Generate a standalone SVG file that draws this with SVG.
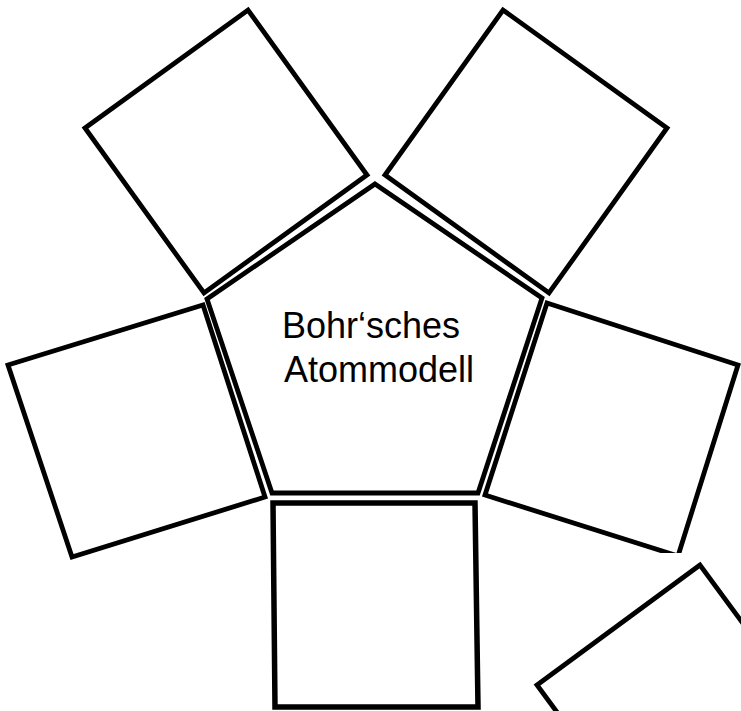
<svg xmlns="http://www.w3.org/2000/svg" width="741" height="711" viewBox="0 0 741 711">
<style>
.sh{fill:#fff;stroke:#000;stroke-width:4.8;stroke-linejoin:miter}
.lbl{font-family:"Liberation Sans",Arial,sans-serif;font-size:36px;fill:#000}
</style>
<rect width="741" height="711" fill="#fff"/>
<g id="center">
<polygon class="sh" points="375,184 542,298 478,493 272,493 207,299"/>
<text class="lbl" x="282" y="338">Bohr‘sches</text>
<text class="lbl" x="284" y="382">Atommodell</text>
</g>
<g id="sq-top-left"><polygon class="sh" points="85,128 248,10 367,175 204,293"/></g>
<g id="sq-top-right"><polygon class="sh" points="385,175 503,10 667,128 549,293"/></g>
<g id="sq-left"><polygon class="sh" points="8,365 203,305 265,497 72,557"/></g>
<g id="sq-right"><polygon class="sh" points="547,303 738,365 678,556 485,495"/></g>
<g id="sq-bottom"><polygon class="sh" style="stroke-width:5.5" points="273,503 475,503 478,707 275,707"/></g>
<rect x="560" y="553" width="181" height="158" fill="#fff"/>
<g id="sq-bottom-right"><polygon class="sh" points="700,565 537,685 657,848 820,728"/></g>
</svg>
